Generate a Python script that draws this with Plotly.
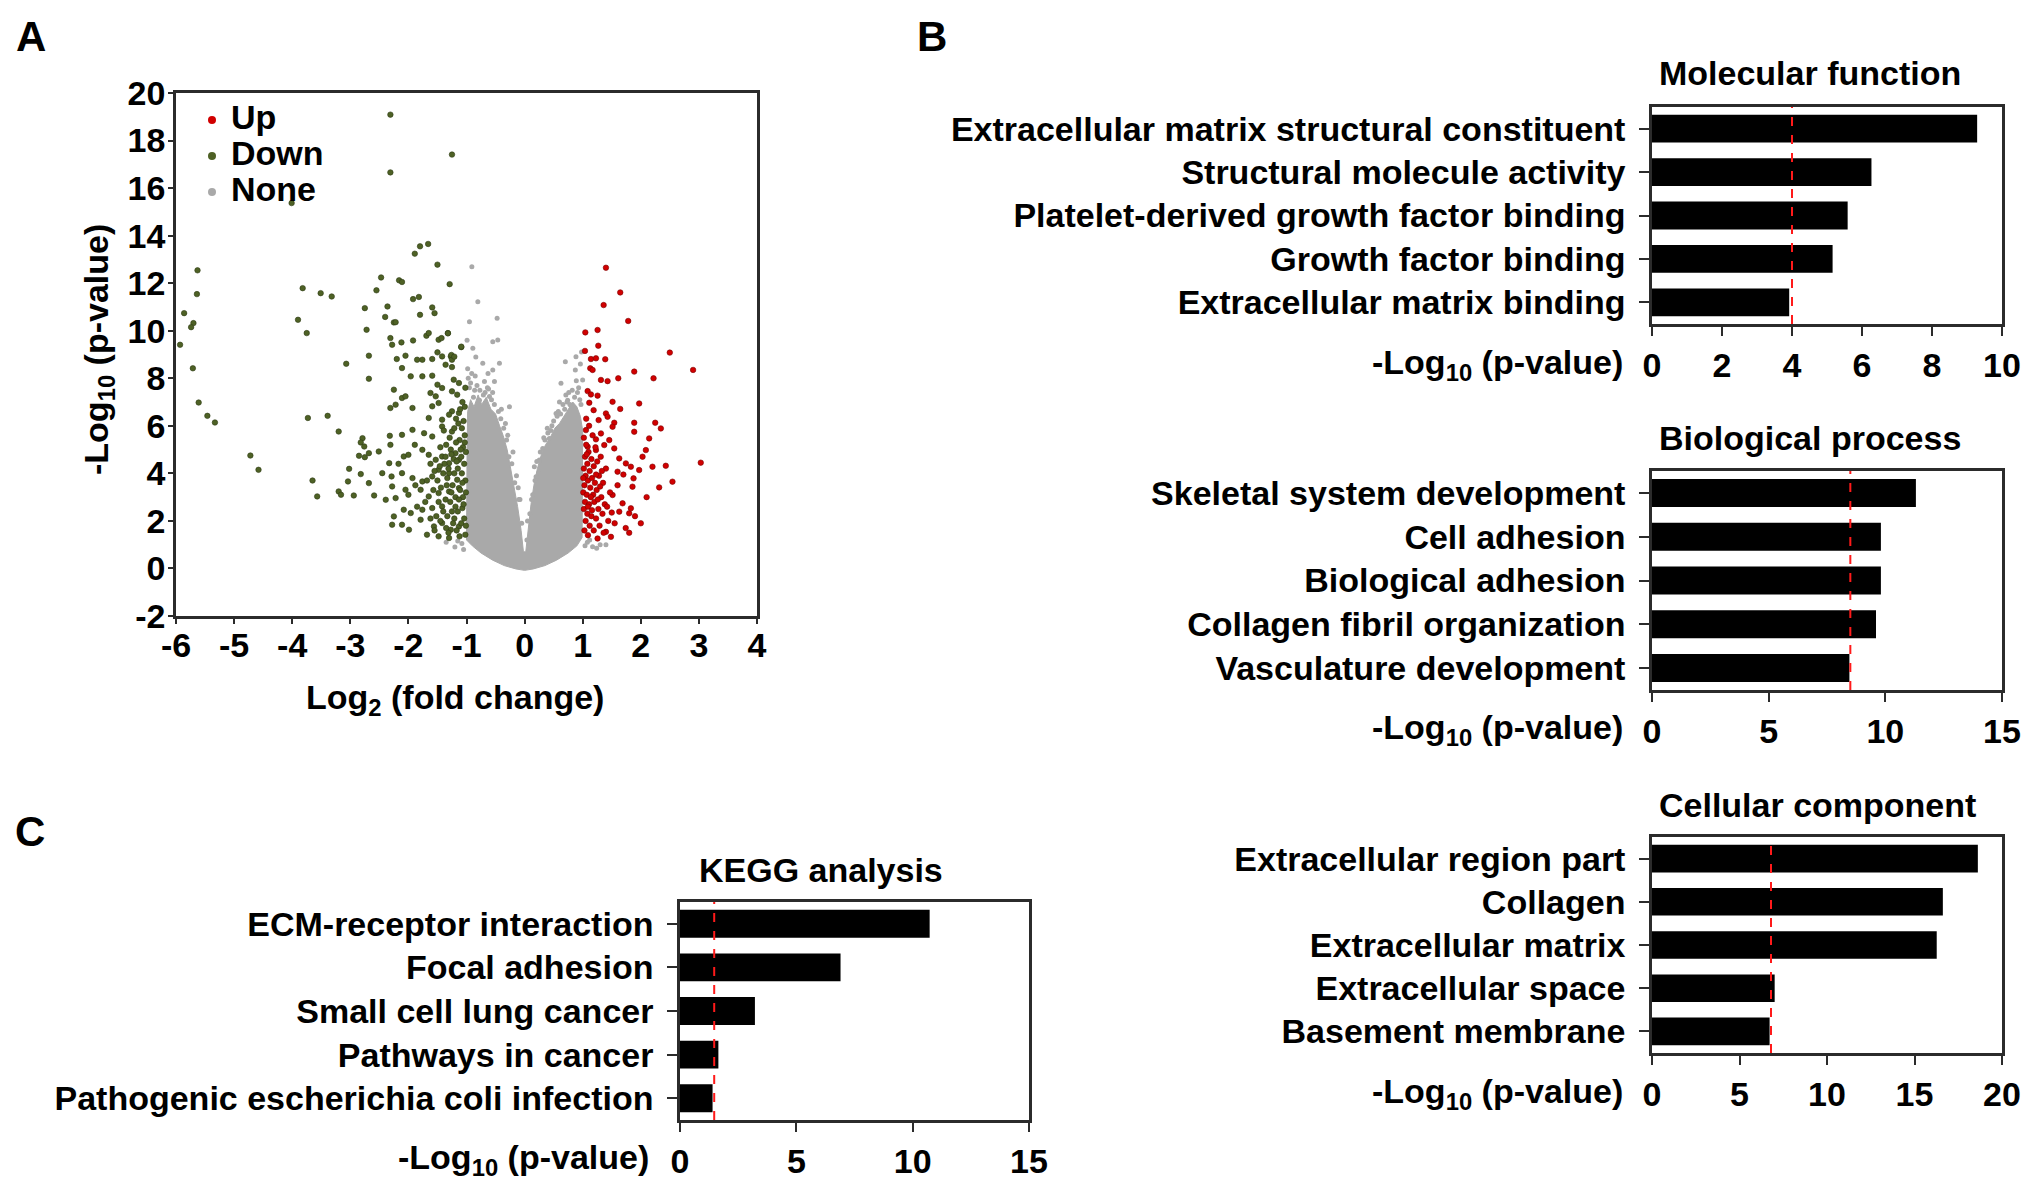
import plotly.graph_objects as go

FONT = "Liberation Sans, Arial, sans-serif"
# The page body has an 8 px margin; lay the figure out so that it sits exactly in the window.
OFF = 8
FW, FH = 2031 - 2 * OFF, 1200 - 2 * OFF

# ---------------- Panel A: volcano data ----------------
down_x = [-2.31, -1.25, -2.31, -4.01, -1.66, -1.80, -1.89, -1.50, -5.63, -2.47, -2.16, -2.11, -1.29,
          -2.55, -3.82, -5.64, -3.51, -3.32, -1.92, -1.82, -2.75, -2.36, -2.40, -2.25, -2.22, -1.80,
          -1.59, -1.55, -5.86, -5.70, -5.74, -3.90, -2.72, -3.75, -5.93, -2.31, -2.28, -2.12, -1.92,
          -1.69, -1.65, -1.48, -1.43, -1.32, -1.09, -2.68, -2.20, -2.05, -1.85, -1.76, -1.59, -1.50,
          -1.42, -1.27, -1.25, -3.07, -5.71, -2.11, -1.96, -1.76, -1.59, -1.36, -1.25, -2.68, -1.22,
          -1.13, -1.50, -1.42, -2.25, -1.62, -1.53, -1.25, -1.16, -2.11, -2.05, -5.61, -2.31, -2.22,
          -1.93, -1.59, -1.48, -1.25, -1.13, -5.46, -5.33, -3.73, -3.39, -1.65, -1.42, -1.30, -3.20,
          -1.93, -2.11, -2.32, -1.73, -1.59, -1.42, -1.25, -2.79, -2.82, -2.76, -2.51, -2.31, -1.89,
          -1.76, -1.65, -1.53, -2.85, -2.75, -2.68, -4.72, -2.08, -2.00, -2.33, -2.17, -1.42, -1.30,
          -1.19, -1.13, -4.58, -3.02, -2.82, -2.45, -2.29, -2.11, -1.93, -1.76, -1.59, -1.48, -1.30,
          -1.16, -3.65, -3.04, -2.68, -2.28, -2.05, -3.57, -3.20, -3.16, -2.94, -2.59, -2.39, -2.22,
          -2.00, -1.79, -1.65, -1.48, -1.30, -1.13, -2.08, -2.25, -1.96, -1.76, -1.59, -1.42, -1.25,
          -1.07, -2.28, -2.11, -1.79, -1.56, -1.42, -1.27, -1.13, -1.99, -1.68, -1.48, -1.30, -1.02,
          -1.32, -1.09, -1.26, -1.21,
          -1.05, -1.08, -1.03, -1.12, -1.06, -1.18, -1.01, -1.09, -1.15, -1.04, -1.22, -1.27, -1.35,
          -1.38, -1.33, -1.24, -1.08, -1.02, -1.11, -1.06, -1.19, -1.28, -1.36, -1.44, -1.40, -1.33,
          -1.21, -1.15, -1.04, -1.09, -1.17, -1.23, -1.35, -1.45, -1.52, -1.57, -1.50, -1.46, -1.55,
          -1.36, -1.29, -1.21, -1.14, -1.03, -1.07, -1.02, -1.11, -1.18, -1.39, -1.45, -1.62, -1.68,
          -1.71, -1.62, -1.85, -1.88, -1.31, -1.12, -1.01, -1.05, -1.13, -1.26, -1.34, -1.21, -1.31,
          -1.03, -1.10, -1.17, -1.26, -1.40, -1.48, -1.55, -1.19, -1.01, -1.07]
down_y = [19.09, 17.41, 16.66, 15.37, 13.65, 13.55, 13.24, 12.78, 12.54, 12.24, 12.12, 12.05, 11.96,
          11.70, 11.79, 11.54, 11.58, 11.44, 11.33, 11.42, 10.95, 11.02, 10.58, 10.35, 10.36, 10.67,
          10.98, 10.74, 10.74, 10.32, 10.15, 10.46, 10.04, 9.90, 9.41, 9.69, 9.41, 9.51, 9.59,
          9.79, 9.90, 9.62, 9.69, 9.90, 9.31, 8.95, 8.81, 8.95, 8.78, 8.78, 8.81, 9.09,
          8.92, 8.92, 8.78, 8.61, 8.42, 8.43, 8.08, 8.08, 8.11, 8.57, 8.47, 7.98, 7.94,
          7.80, 7.73, 7.59, 7.52, 7.38, 7.24, 7.45, 7.31, 7.17, 7.24, 6.98, 6.75, 6.89,
          6.75, 6.82, 6.96, 6.61, 6.54, 6.42, 6.14, 6.33, 6.42, 6.33, 6.26, 6.47, 5.76,
          5.83, 5.62, 5.58, 5.69, 5.55, 5.97, 5.76, 5.48, 5.30, 5.13, 4.92, 5.20, 5.20,
          4.99, 4.78, 4.57, 4.74, 4.68, 4.85, 4.75, 4.71, 4.78, 4.43, 4.40, 4.71, 4.43,
          4.85, 4.57, 4.15, 4.19, 3.97, 4.01, 3.87, 4.01, 3.80, 3.66, 3.87, 4.15, 4.01,
          3.73, 3.70, 3.66, 3.59, 3.45, 3.31, 3.03, 3.24, 3.10, 3.07, 3.07, 2.89, 2.96,
          3.10, 3.31, 3.03, 3.17, 3.24, 3.38, 2.47, 2.19, 2.33, 2.47, 2.54, 2.61, 2.40,
          2.54, 1.84, 1.84, 2.05, 1.77, 1.91, 1.63, 1.77, 1.63, 1.42, 1.35, 1.28, 1.42,
          9.89, 9.33, 8.98, 8.91,
          6.2, 5.9, 5.6, 5.4, 5.1, 5.3, 4.9, 4.7, 4.2, 4.4, 4.6, 5.0, 5.2,
          4.4, 3.8, 3.5, 4.0, 3.7, 3.3, 3.0, 3.0, 2.8, 2.9, 3.4, 2.4, 2.2,
          2.1, 2.4, 2.1, 1.9, 1.6, 1.9, 1.7, 2.0, 2.2, 3.3, 3.7, 4.3, 4.1,
          4.7, 5.5, 5.9, 6.1, 6.8, 7.0, 7.6, 6.7, 6.3, 5.8, 5.1, 4.4, 3.7,
          2.8, 2.1, 2.6, 3.5, 1.5, 1.35, 1.8, 2.7, 2.9, 3.2, 3.5, 4.0, 4.2,
          5.3, 5.0, 4.5, 4.8, 4.0, 2.8, 1.6, 2.6, 3.2, 3.6]

up_x = [1.40, 1.646, 1.36, 1.783, 1.045, 1.256, 2.499, 1.039, 1.268, 1.142, 1.228, 1.388, 1.13, 1.17,
        2.90, 1.887, 2.219, 1.314, 1.428, 1.612, 1.085, 1.142, 1.256, 1.972, 1.113, 1.188, 1.514,
        1.646, 1.40, 1.428, 1.274, 1.543, 1.514, 1.887, 1.887, 2.248, 2.345, 1.056, 1.228, 1.314,
        1.457, 1.543, 2.144, 1.085, 1.228, 1.371, 2.087, 2.03, 1.629, 1.743, 1.829, 1.972, 2.201,
        2.43, 3.032, 1.60, 1.875, 1.857, 2.545, 2.316, 1.514, 1.686, 1.80, 1.829, 1.629, 2.00,
        1.80, 1.40, 1.486, 1.256,
        1.02, 1.06, 1.10, 1.04, 1.15, 1.08, 1.02, 1.12, 1.19, 1.25, 1.31, 1.05, 1.09, 1.16, 1.03,
        1.13, 1.21, 1.28, 1.35, 1.01, 1.07, 1.18, 1.24, 1.32, 1.04, 1.11, 1.20, 1.27, 1.38, 1.02,
        1.08, 1.15, 1.23, 1.34, 1.44, 1.05, 1.12, 1.19, 1.03, 1.09, 1.29, 1.36, 1.42, 1.47, 1.40,
        1.22, 1.17, 1.11, 1.06, 1.33, 1.26, 1.14, 1.07, 1.01, 1.23, 1.09, 1.16, 1.30, 1.50, 1.55,
        1.60, 1.70, 1.90, 1.74, 2.10]
up_y = [12.65, 11.61, 11.08, 10.41, 9.93, 10.03, 9.08, 9.15, 9.37, 8.81, 8.84, 8.80, 8.42, 8.35,
        8.35, 8.28, 8.00, 7.93, 7.88, 8.00, 7.46, 7.32, 7.27, 6.94, 6.97, 6.66, 7.01,
        6.71, 6.52, 6.38, 6.24, 6.13, 5.96, 6.13, 5.75, 6.13, 5.89, 5.82, 5.43, 5.68,
        5.40, 5.05, 5.47, 5.12, 4.98, 5.19, 4.98, 4.70, 4.63, 4.42, 4.28, 4.14, 4.28,
        4.32, 4.45, 4.07, 3.79, 3.44, 3.65, 3.41, 3.09, 2.74, 2.32, 2.53, 2.39, 1.90,
        1.50, 1.54, 1.33, 1.26,
        5.5, 5.2, 4.9, 4.7, 4.6, 4.4, 4.2, 4.1, 4.3, 4.5, 4.7, 3.9, 3.7, 3.8, 3.5,
        3.4, 3.6, 3.9, 3.6, 3.2, 3.1, 3.1, 3.3, 3.0, 2.8, 2.7, 2.8, 2.5, 2.7, 2.5,
        2.3, 2.2, 2.1, 2.3, 2.0, 2.0, 1.8, 1.6, 1.6, 1.4, 1.8, 1.5, 2.6, 3.2, 4.2,
        5.1, 5.6, 6.0, 6.3, 4.1, 2.9, 3.0, 4.8, 3.8, 3.95, 2.6, 2.45, 3.45, 2.35, 1.9,
        3.5, 3.95, 2.2, 1.7, 3.0]

# Dense grey (non-significant) cloud: outline
none_area_x = [-1.0, -1.0, -0.99, -0.98, -0.93, -0.87, -0.80, -0.74, -0.66, -0.58, -0.50, -0.43,
               -0.37, -0.30, -0.24, -0.18, -0.12, -0.06, -0.02, 0.02, 0.06, 0.11, 0.16, 0.22, 0.29,
               0.36, 0.44, 0.52, 0.60, 0.68, 0.76, 0.83, 0.90, 0.96, 1.0, 1.0, 0.99, 0.90, 0.75,
               0.55, 0.35, 0.15, 0.0, -0.15, -0.35, -0.55, -0.75, -0.90, -1.0]
none_area_y = [1.2, 3.0, 5.0, 6.6, 7.1, 6.8, 7.3, 6.9, 7.2, 6.7, 6.5, 6.0,
               5.6, 5.0, 4.2, 3.4, 2.6, 1.6, 0.7, 0.7, 1.7, 2.7, 3.5, 4.2, 4.8,
               5.2, 5.5, 5.9, 6.1, 6.4, 6.7, 7.0, 6.8, 6.4, 5.8, 3.0, 1.3, 0.95, 0.65,
               0.35, 0.12, -0.02, -0.08, -0.02, 0.12, 0.35, 0.65, 0.95, 1.2]
# Scattered grey points around the cloud
none_x = [-0.908, -0.805, -0.949, -0.473, -0.548, -0.462, -0.891, -0.433, -0.72, -0.548, -0.691,
          -0.519, -0.261, -0.605, -0.777, 0.701, 0.884, 0.873, 0.626, 0.999, 0.741, 0.426, 0.312,
          0.168, 0.197, 0.254, 0.798, 0.541, -0.95, -0.86, -0.62, -0.40, -0.33, -0.20, -0.14,
          -0.08, 0.09, 0.14, 0.33, 0.47, 0.58, 0.66, 0.91, 0.95, -1.08, -1.2, -1.35, 1.08, 1.17,
          1.3, -0.97, -0.85, 0.82, -0.29, -0.11, 0.04, 0.21, 0.39, -0.68, 0.71,
          -0.93, -0.88, -0.82, -0.77, -0.71, -0.64, -0.57, -0.52, -0.45, -0.41, -0.36, -0.31,
          -0.27, -0.22, -0.17, -0.10, -0.05, 0.05, 0.12, 0.18, 0.24, 0.27, 0.35, 0.40, 0.45,
          0.50, 0.56, 0.62, 0.69, 0.73, 0.78, 0.86, 0.93, 0.97, -0.98, -0.91, -0.84, -0.63,
          -0.55, 0.60, 0.76, 0.89, 0.96, -1.05, -1.15, 1.04, 1.12, 1.24, 1.4, -0.99, 0.98]
none_y = [12.69, 11.22, 10.38, 10.52, 9.54, 9.61, 9.26, 8.63, 8.63, 8.35, 7.86,
          7.86, 6.80, 7.23, 7.08, 8.70, 8.91, 8.35, 7.79, 7.93, 7.08, 5.47, 5.05,
          4.28, 3.86, 4.56, 6.87, 6.52, 7.6, 7.5, 7.55, 6.7, 6.1, 4.9, 3.9,
          2.9, 2.3, 3.1, 5.5, 6.0, 6.6, 6.9, 7.4, 7.1, 1.05, 0.9, 1.1, 1.1, 0.91,
          1.0, 8.0, 8.1, 7.5, 5.6, 3.4, 1.2, 4.5, 5.9, 7.4, 7.3,
          7.8, 7.2, 7.7, 7.5, 7.3, 7.6, 7.1, 6.9, 6.6, 6.3, 5.9, 5.4,
          4.7, 4.4, 3.6, 2.9, 1.9, 2.0, 2.9, 3.7, 4.0, 4.9, 5.4, 5.7, 5.8,
          6.2, 6.4, 6.5, 6.7, 7.0, 6.9, 7.2, 7.6, 6.9, 8.4, 8.2, 8.9, 8.2,
          7.4, 7.0, 7.4, 7.9, 8.6, 0.8, 1.15, 0.95, 1.2, 0.85, 1.0, 9.6, 9.1]

fc_ticks = [-6, -5, -4, -3, -2, -1, 0, 1, 2, 3, 4]
p_ticks = [-2, 0, 2, 4, 6, 8, 10, 12, 14, 16, 18, 20]
legend_names = ["Up", "Down", "None"]

# ---------------- Panel B / C: enrichment bars ----------------
mf_terms = ["Extracellular matrix structural constituent", "Structural molecule activity",
            "Platelet-derived growth factor binding", "Growth factor binding",
            "Extracellular matrix binding"]
mf_vals = [9.29, 6.27, 5.59, 5.16, 3.92]
bp_terms = ["Skeletal system development", "Cell adhesion", "Biological adhesion",
            "Collagen fibril organization", "Vasculature development"]
bp_vals = [11.31, 9.81, 9.81, 9.60, 8.46]
cc_terms = ["Extracellular region part", "Collagen", "Extracellular matrix",
            "Extracellular space", "Basement membrane"]
cc_vals = [18.62, 16.62, 16.27, 7.01, 6.72]
kegg_terms = ["ECM-receptor interaction", "Focal adhesion", "Small cell lung cancer",
              "Pathways in cancer", "Pathogenic escherichia coli infection"]
kegg_vals = [10.73, 6.90, 3.22, 1.65, 1.40]
thresholds = [4.0, 8.5, 6.8, 1.47]  # red dashed cut-off lines: MF, BP, CC, KEGG
bar_titles = ["Molecular function", "Biological process", "Cellular component", "KEGG analysis"]
bar_ranges = [[0, 10], [0, 15], [0, 20], [0, 15]]
bar_dticks = [2, 5, 5, 5]

RED = "#d10000"
GREEN = "#4e6125"
GREY = "#a9a9a9"
legend_colors = [RED, GREEN, GREY]


def fx(p):  # screenshot pixel -> paper fraction (x)
    return (p - OFF) / FW


def fy(p):  # screenshot pixel -> paper fraction (y)
    return 1 - (p - OFF) / FH


fig = go.Figure()

# Panel A traces
fig.add_trace(go.Scatter(x=none_area_x, y=none_area_y, mode="lines", fill="toself",
                         fillcolor=GREY, line=dict(width=1, color=GREY),
                         showlegend=False, hoverinfo="skip", xaxis="x", yaxis="y"))
fig.add_trace(go.Scatter(x=none_x, y=none_y, mode="markers", name="None",
                         marker=dict(color=GREY, size=5), showlegend=False, xaxis="x", yaxis="y"))
fig.add_trace(go.Scatter(x=down_x, y=down_y, mode="markers", name="Down", showlegend=False,
                         marker=dict(color=GREEN, size=5.5, line=dict(width=0.6, color="#2e3a14")),
                         xaxis="x", yaxis="y"))
fig.add_trace(go.Scatter(x=up_x, y=up_y, mode="markers", name="Up", showlegend=False,
                         marker=dict(color=RED, size=5.5, line=dict(width=0.6, color="#7a0000")),
                         xaxis="x", yaxis="y"))

# Bar panels
bar_sets = [(mf_terms, mf_vals), (bp_terms, bp_vals), (cc_terms, cc_vals), (kegg_terms, kegg_vals)]
shapes = []
for i, (terms, vals) in enumerate(bar_sets):
    n = i + 2
    fig.add_trace(go.Bar(y=terms, x=vals, orientation="h", width=0.64,
                         marker=dict(color="black", line=dict(width=0)),
                         showlegend=False, xaxis=f"x{n}", yaxis=f"y{n}"))
    shapes.append(dict(type="line", xref=f"x{n}", yref=f"y{n} domain",
                       x0=thresholds[i], x1=thresholds[i], y0=0, y1=1,
                       line=dict(color="#ff1a1a", width=2, dash="dash"), layer="above"))

tick_font = dict(family=FONT, size=34, color="black", weight="bold")
line_col = "#2b2b2b"

layout_axes = {}
# Panel A axes
layout_axes["xaxis"] = dict(domain=[fx(176), fx(757)], range=[-6, 4],
                            tickvals=fc_ticks, ticktext=[str(v) for v in fc_ticks],
                            showline=True, mirror=True, linecolor=line_col, linewidth=2.5,
                            ticks="outside", ticklen=5, tickwidth=2, tickcolor=line_col,
                            showgrid=False, zeroline=False, tickfont=tick_font,
                            ticklabelstandoff=-8, automargin=False, anchor="y")
layout_axes["yaxis"] = dict(domain=[fy(616), fy(93)], range=[-2, 20],
                            tickvals=p_ticks, ticktext=[str(v) for v in p_ticks],
                            showline=True, mirror=True, linecolor=line_col, linewidth=2.5,
                            ticks="outside", ticklen=5, tickwidth=2, tickcolor=line_col,
                            showgrid=False, zeroline=False, tickfont=tick_font,
                            ticklabelstandoff=-4, automargin=False, anchor="x")

boxes = [  # (left, right, top, bottom) in screenshot pixels
    (1652, 2002, 107, 324),
    (1652, 2002, 471, 690),
    (1652, 2002, 837, 1053),
    (680, 1029, 902, 1120),
]
for i, (l, r, t, b) in enumerate(boxes):
    n = i + 2
    layout_axes[f"xaxis{n}"] = dict(domain=[fx(l), fx(r)], range=bar_ranges[i], dtick=bar_dticks[i],
                                    showline=True, mirror=True, linecolor=line_col, linewidth=2.5,
                                    ticks="outside", ticklen=9, tickwidth=2, tickcolor=line_col,
                                    showgrid=False, zeroline=False, tickfont=tick_font,
                                    ticklabelstandoff=0, automargin=False, anchor=f"y{n}")
    layout_axes[f"yaxis{n}"] = dict(domain=[fy(b), fy(t)], type="category",
                                    categoryarray=bar_sets[i][0], autorange="reversed",
                                    showline=True, mirror=True, linecolor=line_col, linewidth=2.5,
                                    ticks="outside", ticklen=10, tickwidth=2, tickcolor=line_col,
                                    showgrid=False, zeroline=False, tickfont=tick_font,
                                    ticklabelstandoff=7, automargin=False, anchor=f"x{n}")

annotations = []


def ann(text, x, y, size=34, xanchor="center", yanchor="middle", angle=0):
    annotations.append(dict(text=text, x=fx(x), y=fy(y), xref="paper", yref="paper",
                            showarrow=False, xanchor=xanchor, yanchor=yanchor, textangle=angle,
                            font=dict(family=FONT, size=size, color="black", weight="bold")))


# Panel letters
ann("A", 31, 37, size=42)
ann("B", 932, 37, size=42)
ann("C", 30, 831, size=42)
# Panel A axis titles
ann("Log<sub>2</sub> (fold change)", 455, 699)
ann("-Log<sub>10</sub> (p-value)", 99, 350, angle=-90)
# Panel A legend (inside plot, top-left)
leg_rows = [117, 153, 189]
for name, col, ry in zip(legend_names, legend_colors, leg_rows):
    ann(name, 229, ry, xanchor="left")
    shapes.append(dict(type="circle", xref="paper", yref="paper", xsizemode="pixel",
                       ysizemode="pixel", xanchor=fx(212), yanchor=fy(ry + 3),
                       x0=-4, x1=4, y0=-4, y1=4, fillcolor=col, line=dict(width=0)))
# Bar panel titles
title_pos = [(1657, 73), (1657, 438), (1657, 805), (697, 870)]
for (tx, ty), txt in zip(title_pos, bar_titles):
    ann(txt, tx, ty, xanchor="left")
# Bar panel x-axis titles (left of tick labels)
xlab_pos = [(1625, 364), (1625, 729), (1625, 1093), (651, 1159)]
for (tx, ty) in xlab_pos:
    ann("-Log<sub>10</sub> (p-value)", tx, ty, xanchor="right")

fig.update_layout(
    width=FW, height=FH, margin=dict(l=0, r=0, t=0, b=0, autoexpand=False),
    paper_bgcolor="white", plot_bgcolor="white",
    font=dict(family=FONT, size=34, color="black", weight="bold"),
    showlegend=False,
    annotations=annotations,
    shapes=shapes,
    **layout_axes,
)

fig.write_html("out.html")
